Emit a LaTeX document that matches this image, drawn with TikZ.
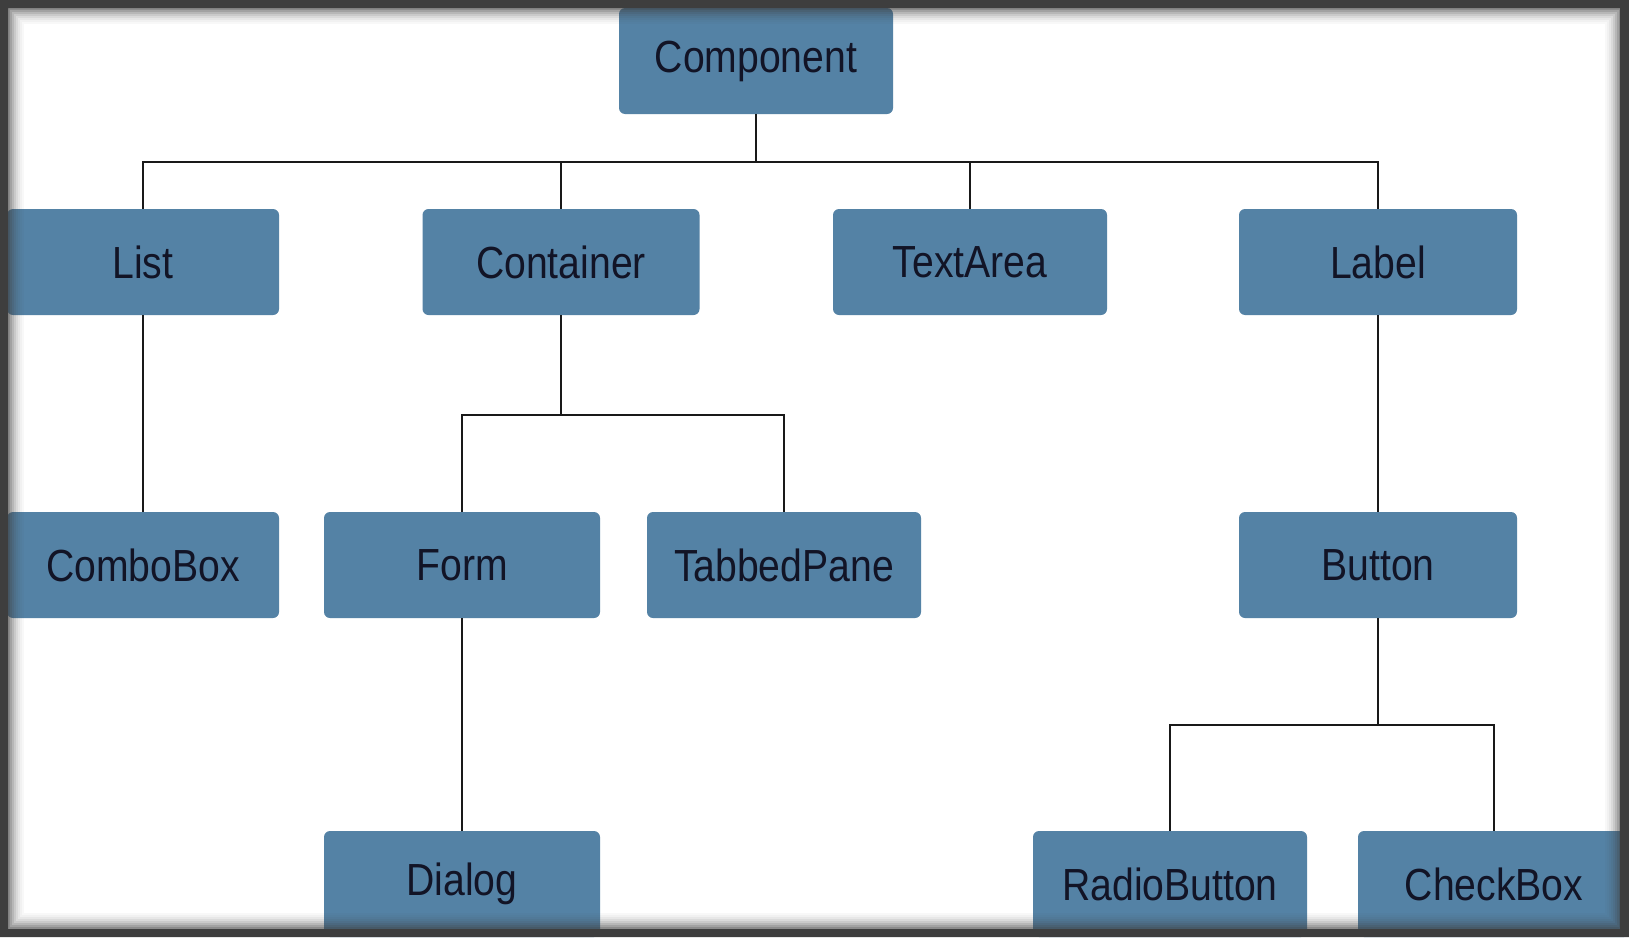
\documentclass[tikz,border=0pt]{standalone}
\usepackage{fontspec}
\usetikzlibrary{calc}
\setmainfont{Liberation Sans}[FakeStretch=0.87]
\definecolor{boxblue}{RGB}{84,130,165}
\definecolor{linegray}{RGB}{25,25,25}
\definecolor{textnavy}{RGB}{18,20,38}
\definecolor{framegray}{RGB}{62,62,62}
\tikzset{
  cls/.style={rectangle, rounded corners=6pt, fill=boxblue, draw=none,
    minimum width=272pt, minimum height=106pt, inner sep=0pt,
    font=\fontsize{45}{52}\selectfont, text=textnavy},
  link/.style={draw=linegray, line width=2.2pt}
}
\begin{document}
\begin{tikzpicture}[x=1pt,y=-1pt]
\useasboundingbox (0,0) rectangle (1629,937);
\fill[white] (0,0) rectangle (1629,937);

% class boxes
\node[cls, minimum width=274pt] (comp) at (756,61) {Component};

\node[cls] (list)      at (143,262)  {List};
\node[cls, minimum width=277pt] (container) at (561,262) {Container};
\node[cls, minimum width=274pt] (textarea)  at (970,262)  {TextArea};
\node[cls, minimum width=278pt] (label)     at (1378,262) {Label};

\node[cls] (combobox)   at (143,565)  {ComboBox};
\node[cls, minimum width=276pt] (form)       at (462,565)  {Form};
\node[cls, minimum width=274pt] (tabbedpane) at (784,565)  {TabbedPane};
\node[cls, minimum width=278pt] (button)     at (1378,565) {Button};

\node[cls, minimum width=276pt] (dialog)      at (462,884)  {Dialog};
\node[cls, minimum width=274pt] (radiobutton) at (1170,884) {RadioButton};
\node[cls, minimum width=272pt] (checkbox)    at (1494,884) {CheckBox};

% bus lines, each level between parent and children
\coordinate (b1) at ($(comp.south)+(0,48)$);
\coordinate (b2) at ($(container.south)+(0,100)$);
\coordinate (b3) at ($(button.south)+(0,107)$);

% Component -> first level
\path[link] (comp.south) -- (b1);
\path[link] (list.north) |- (label.north |- b1) -- (label.north);
\path[link] (container.north) -- (container.north |- b1);
\path[link] (textarea.north) -- (textarea.north |- b1);

% single children
\path[link] (list.south) -- (combobox.north);
\path[link] (label.south) -- (button.north);
\path[link] (form.south) -- (dialog.north);

% Container -> Form, TabbedPane
\path[link] (container.south) -- (b2);
\path[link] (form.north) |- (tabbedpane.north |- b2) -- (tabbedpane.north);

% Button -> RadioButton, CheckBox
\path[link] (button.south) -- (b3);
\path[link] (radiobutton.north) |- (checkbox.north |- b3) -- (checkbox.north);

% dark frame with soft inner edge
\fill[framegray, even odd rule] (0,0) rectangle (1629,937) (8,8) rectangle (1620,929);
\foreach \i/\o in {8/0.6,10/0.48,12/0.37,14/0.27,16/0.19,18/0.12,20/0.07,22/0.03}{
  \draw[framegray, line width=2pt, opacity=\o] (\i+1,\i+1) rectangle (1628-\i,936-\i);
}
\end{tikzpicture}
\end{document}
